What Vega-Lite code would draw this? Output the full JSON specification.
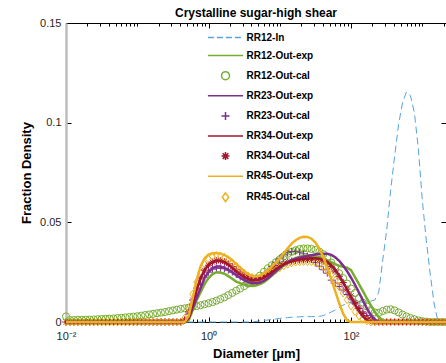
{
"$schema": "https://vega.github.io/schema/vega-lite/v6.json",
"width": 380, "height": 299,
"autosize": {"type": "none"},
"padding": {"left": 66, "top": 23, "right": 0, "bottom": 41},
"title": {"text": "Crystalline sugar-high shear", "fontSize": 12, "fontWeight": "bold", "font": "Liberation Sans", "color": "#000000", "offset": -3, "anchor": "middle"},
"config": {"view": {"stroke": null}, "font": "Liberation Sans",
 "axis": {"labelFont": "Liberation Sans", "labelFontSize": 11, "labelColor": "#262626", "titleFont": "Liberation Sans", "titleColor": "#000000", "titleFontWeight": "bold", "titleFontSize": 13, "tickColor": "#000000", "domainColor": "#000000", "grid": false, "labelFlush": false, "labelOverlap": false}},
"data": {"values": [
{"d":0.01,"in":0,"e12":0,"c12":0.0028,"e23":0,"c23":0,"e34":0,"c34":0,"e45":0,"c45":0},
{"d":0.011365,"in":0,"e12":0,"c12":0.0010,"e23":0,"c23":0,"e34":0,"c34":0,"e45":0,"c45":0},
{"d":0.012916,"in":0,"e12":0,"c12":0.0010,"e23":0,"c23":0,"e34":0,"c34":0,"e45":0,"c45":0},
{"d":0.014678,"in":0,"e12":0,"c12":0.0011,"e23":0,"c23":0,"e34":0,"c34":0,"e45":0,"c45":0},
{"d":0.016681,"in":0,"e12":0,"c12":0.0011,"e23":0,"c23":0,"e34":0,"c34":0,"e45":0,"c45":0},
{"d":0.018957,"in":0,"e12":0,"c12":0.0012,"e23":0,"c23":0,"e34":0,"c34":0,"e45":0,"c45":0},
{"d":0.021544,"in":0,"e12":0,"c12":0.0012,"e23":0,"c23":0,"e34":0,"c34":0,"e45":0,"c45":0},
{"d":0.024484,"in":0,"e12":0,"c12":0.0013,"e23":0,"c23":0,"e34":0,"c34":0,"e45":0,"c45":0},
{"d":0.027826,"in":0,"e12":0,"c12":0.0014,"e23":0,"c23":0,"e34":0,"c34":0,"e45":0,"c45":0},
{"d":0.031623,"in":0,"e12":0,"c12":0.0015,"e23":0,"c23":0,"e34":0,"c34":0,"e45":0,"c45":0},
{"d":0.035938,"in":0,"e12":0,"c12":0.0016,"e23":0,"c23":0,"e34":0,"c34":0,"e45":0,"c45":0},
{"d":0.040842,"in":0,"e12":0,"c12":0.0017,"e23":0,"c23":0,"e34":0,"c34":0,"e45":0,"c45":0},
{"d":0.046416,"in":0,"e12":0,"c12":0.0018,"e23":0,"c23":0,"e34":0,"c34":0,"e45":0,"c45":0},
{"d":0.05275,"in":0,"e12":0,"c12":0.0020,"e23":0,"c23":0,"e34":0,"c34":0,"e45":0,"c45":0},
{"d":0.059948,"in":0,"e12":0,"c12":0.0021,"e23":0,"c23":0,"e34":0,"c34":0,"e45":0,"c45":0},
{"d":0.068129,"in":0,"e12":0,"c12":0.0023,"e23":0,"c23":0,"e34":0,"c34":0,"e45":0,"c45":0},
{"d":0.077426,"in":0,"e12":0,"c12":0.0025,"e23":0,"c23":0,"e34":0,"c34":0,"e45":0,"c45":0},
{"d":0.087992,"in":0,"e12":0,"c12":0.0027,"e23":0,"c23":0,"e34":0,"c34":0,"e45":0,"c45":0},
{"d":0.1,"in":0,"e12":0,"c12":0.0029,"e23":0,"c23":0,"e34":0,"c34":0,"e45":0,"c45":0},
{"d":0.11365,"in":0,"e12":0,"c12":0.0032,"e23":0,"c23":0,"e34":0,"c34":0,"e45":0,"c45":0},
{"d":0.12916,"in":0,"e12":0,"c12":0.0035,"e23":0,"c23":0,"e34":0,"c34":0,"e45":0,"c45":0},
{"d":0.14678,"in":0,"e12":0,"c12":0.0038,"e23":0,"c23":0,"e34":0,"c34":0,"e45":0,"c45":0},
{"d":0.16681,"in":0,"e12":0,"c12":0.0041,"e23":0,"c23":0,"e34":0,"c34":0,"e45":0,"c45":0},
{"d":0.18957,"in":0,"e12":0,"c12":0.0044,"e23":0,"c23":0,"e34":0,"c34":0,"e45":0,"c45":0},
{"d":0.21544,"in":0,"e12":0,"c12":0.0047,"e23":0,"c23":0,"e34":0,"c34":0,"e45":0,"c45":0},
{"d":0.24484,"in":0,"e12":0,"c12":0.0050,"e23":0,"c23":0,"e34":0,"c34":0,"e45":0,"c45":0},
{"d":0.27826,"in":0,"e12":0,"c12":0.0054,"e23":0,"c23":0,"e34":0,"c34":0,"e45":0,"c45":0},
{"d":0.31623,"in":0,"e12":0,"c12":0.0058,"e23":0,"c23":0,"e34":0,"c34":0,"e45":0,"c45":0},
{"d":0.35938,"in":0,"e12":0,"c12":0.0062,"e23":0,"c23":0,"e34":0,"c34":0,"e45":0,"c45":0},
{"d":0.40842,"in":0,"e12":0,"c12":0.0066,"e23":0,"c23":0,"e34":0,"c34":0,"e45":0,"c45":0},
{"d":0.46416,"in":0,"e12":0,"c12":0.0069,"e23":0,"c23":0.001,"e34":0,"c34":0.001,"e45":0,"c45":0.002},
{"d":0.5275,"in":0,"e12":0.001,"c12":0.0072,"e23":0.002,"c23":0.004,"e34":0.002,"c34":0.005,"e45":0.003,"c45":0.007},
{"d":0.59948,"in":0,"e12":0.006,"c12":0.0076,"e23":0.007,"c23":0.009,"e34":0.009,"c34":0.011,"e45":0.012,"c45":0.014},
{"d":0.68129,"in":0,"e12":0.011,"c12":0.0080,"e23":0.012,"c23":0.014,"e34":0.016,"c34":0.017,"e45":0.021,"c45":0.020},
{"d":0.77426,"in":0,"e12":0.015,"c12":0.0084,"e23":0.017,"c23":0.019,"e34":0.022,"c34":0.022,"e45":0.028,"c45":0.025},
{"d":0.87992,"in":0,"e12":0.019,"c12":0.0089,"e23":0.022,"c23":0.0225,"e34":0.026,"c34":0.026,"e45":0.032,"c45":0.029},
{"d":1,"in":0,"e12":0.022,"c12":0.0094,"e23":0.025,"c23":0.025,"e34":0.0287,"c34":0.0285,"e45":0.0338,"c45":0.0315},
{"d":1.1365,"in":0,"e12":0.024,"c12":0.0100,"e23":0.027,"c23":0.0265,"e34":0.0302,"c34":0.030,"e45":0.0345,"c45":0.0328},
{"d":1.2916,"in":0,"e12":0.0249,"c12":0.0107,"e23":0.0278,"c23":0.027,"e34":0.0308,"c34":0.0307,"e45":0.0346,"c45":0.0333},
{"d":1.4678,"in":0,"e12":0.0248,"c12":0.0115,"e23":0.0278,"c23":0.027,"e34":0.0307,"c34":0.0307,"e45":0.0343,"c45":0.0332},
{"d":1.6681,"in":0,"e12":0.0242,"c12":0.0124,"e23":0.0272,"c23":0.0267,"e34":0.030,"c34":0.0302,"e45":0.0336,"c45":0.0325},
{"d":1.8957,"in":0,"e12":0.023,"c12":0.0135,"e23":0.0262,"c23":0.026,"e34":0.0288,"c34":0.0292,"e45":0.0325,"c45":0.0313},
{"d":2.1544,"in":0,"e12":0.0217,"c12":0.0146,"e23":0.025,"c23":0.025,"e34":0.0272,"c34":0.0278,"e45":0.031,"c45":0.0297},
{"d":2.4484,"in":0,"e12":0.0203,"c12":0.0157,"e23":0.0235,"c23":0.0238,"e34":0.0255,"c34":0.0262,"e45":0.0292,"c45":0.028},
{"d":2.7826,"in":0,"e12":0.0195,"c12":0.0168,"e23":0.0222,"c23":0.0225,"e34":0.024,"c34":0.0247,"e45":0.0273,"c45":0.0262},
{"d":3.1623,"in":0,"e12":0.0188,"c12":0.018,"e23":0.021,"c23":0.0215,"e34":0.0226,"c34":0.0234,"e45":0.0255,"c45":0.0245},
{"d":3.5938,"in":0,"e12":0.0183,"c12":0.0192,"e23":0.020,"c23":0.0208,"e34":0.0216,"c34":0.0225,"e45":0.024,"c45":0.0232},
{"d":4.0842,"in":0,"e12":0.0181,"c12":0.0203,"e23":0.0195,"c23":0.0205,"e34":0.021,"c34":0.022,"e45":0.023,"c45":0.0224},
{"d":4.6416,"in":0.0003,"e12":0.0183,"c12":0.0217,"e23":0.0194,"c23":0.0208,"e34":0.0209,"c34":0.0219,"e45":0.0228,"c45":0.022},
{"d":5.275,"in":0.0005,"e12":0.019,"c12":0.0233,"e23":0.0198,"c23":0.0218,"e34":0.0213,"c34":0.0223,"e45":0.0233,"c45":0.0221},
{"d":5.9948,"in":0.0008,"e12":0.020,"c12":0.0252,"e23":0.0207,"c23":0.0235,"e34":0.0222,"c34":0.0232,"e45":0.0245,"c45":0.0227},
{"d":6.8129,"in":0.001,"e12":0.0215,"c12":0.027,"e23":0.022,"c23":0.0255,"e34":0.0235,"c34":0.0244,"e45":0.026,"c45":0.0236},
{"d":7.7426,"in":0.0013,"e12":0.0233,"c12":0.0285,"e23":0.0237,"c23":0.0278,"e34":0.025,"c34":0.0258,"e45":0.0278,"c45":0.0248},
{"d":8.7992,"in":0.0015,"e12":0.025,"c12":0.030,"e23":0.0255,"c23":0.030,"e34":0.0265,"c34":0.0272,"e45":0.0298,"c45":0.026},
{"d":10,"in":0.0018,"e12":0.0267,"c12":0.0315,"e23":0.0272,"c23":0.032,"e34":0.0278,"c34":0.0284,"e45":0.032,"c45":0.0272},
{"d":11.365,"in":0.002,"e12":0.0283,"c12":0.033,"e23":0.0287,"c23":0.0337,"e34":0.0289,"c34":0.0294,"e45":0.0345,"c45":0.0282},
{"d":12.916,"in":0.0022,"e12":0.0297,"c12":0.0342,"e23":0.030,"c23":0.0348,"e34":0.0298,"c34":0.0301,"e45":0.037,"c45":0.029},
{"d":14.678,"in":0.0024,"e12":0.031,"c12":0.0352,"e23":0.031,"c23":0.0354,"e34":0.0305,"c34":0.0306,"e45":0.0393,"c45":0.0296},
{"d":16.681,"in":0.0025,"e12":0.032,"c12":0.036,"e23":0.0318,"c23":0.0355,"e34":0.031,"c34":0.0309,"e45":0.041,"c45":0.030},
{"d":18.957,"in":0.0026,"e12":0.0327,"c12":0.0366,"e23":0.0323,"c23":0.0351,"e34":0.0314,"c34":0.0311,"e45":0.0422,"c45":0.0302},
{"d":21.544,"in":0.0027,"e12":0.0331,"c12":0.0369,"e23":0.0327,"c23":0.0342,"e34":0.0317,"c34":0.0312,"e45":0.0428,"c45":0.0303},
{"d":24.484,"in":0.0027,"e12":0.0333,"c12":0.0369,"e23":0.0331,"c23":0.033,"e34":0.0319,"c34":0.0313,"e45":0.0427,"c45":0.0303},
{"d":27.826,"in":0.0027,"e12":0.0333,"c12":0.0367,"e23":0.0335,"c23":0.0315,"e34":0.032,"c34":0.0314,"e45":0.0418,"c45":0.0302},
{"d":31.623,"in":0.0027,"e12":0.033,"c12":0.0362,"e23":0.0339,"c23":0.0298,"e34":0.032,"c34":0.0314,"e45":0.0398,"c45":0.0298},
{"d":35.938,"in":0.0028,"e12":0.0325,"c12":0.0353,"e23":0.0342,"c23":0.028,"e34":0.0318,"c34":0.0312,"e45":0.0368,"c45":0.029},
{"d":40.842,"in":0.0033,"e12":0.0318,"c12":0.034,"e23":0.0343,"c23":0.0262,"e34":0.0312,"c34":0.0306,"e45":0.0325,"c45":0.0278},
{"d":46.416,"in":0.004,"e12":0.031,"c12":0.0322,"e23":0.0342,"c23":0.0245,"e34":0.0302,"c34":0.0295,"e45":0.0272,"c45":0.026},
{"d":52.75,"in":0.005,"e12":0.030,"c12":0.0298,"e23":0.0337,"c23":0.021,"e34":0.0285,"c34":0.0278,"e45":0.0215,"c45":0.0237},
{"d":59.948,"in":0.006,"e12":0.029,"c12":0.027,"e23":0.0325,"c23":0.0195,"e34":0.0262,"c34":0.0256,"e45":0.0155,"c45":0.0209},
{"d":68.129,"in":0.0072,"e12":0.0282,"c12":0.0245,"e23":0.0307,"c23":0.0178,"e34":0.0233,"c34":0.0229,"e45":0.0095,"c45":0.0178},
{"d":77.426,"in":0.0085,"e12":0.0277,"c12":0.022,"e23":0.0283,"c23":0.016,"e34":0.020,"c34":0.0198,"e45":0.0042,"c45":0.0145},
{"d":87.992,"in":0.0093,"e12":0.0272,"c12":0.0193,"e23":0.0255,"c23":0.0138,"e34":0.0163,"c34":0.0165,"e45":0.0008,"c45":0.0112},
{"d":100,"in":0.010,"e12":0.026,"c12":0.0168,"e23":0.0222,"c23":0.0115,"e34":0.0125,"c34":0.0131,"e45":0,"c45":0.008},
{"d":113.65,"in":0.010,"e12":0.0225,"c12":0.0145,"e23":0.0187,"c23":0.0092,"e34":0.0088,"c34":0.0098,"e45":0,"c45":0.0052},
{"d":129.16,"in":0.010,"e12":0.019,"c12":0.012,"e23":0.0148,"c23":0.007,"e34":0.0055,"c34":0.0068,"e45":0,"c45":0.003},
{"d":146.78,"in":0.010,"e12":0.0155,"c12":0.0097,"e23":0.0108,"c23":0.005,"e34":0.0028,"c34":0.0042,"e45":0,"c45":0.0014},
{"d":166.81,"in":0.010,"e12":0.0118,"c12":0.0078,"e23":0.0068,"c23":0.0032,"e34":0.001,"c34":0.0022,"e45":0,"c45":0.0005},
{"d":189.57,"in":0.0105,"e12":0.0083,"c12":0.006,"e23":0.0035,"c23":0.0018,"e34":0,"c34":0.0008,"e45":0,"c45":0},
{"d":215.44,"in":0.011,"e12":0.005,"c12":0.0048,"e23":0.0012,"c23":0.0008,"e34":0,"c34":0,"e45":0,"c45":0},
{"d":244.84,"in":0.015,"e12":0.0025,"c12":0.0046,"e23":0,"c23":0.0002,"e34":0,"c34":0,"e45":0,"c45":0},
{"d":278.26,"in":0.031,"e12":0.0008,"c12":0.0055,"e23":0,"c23":0,"e34":0,"c34":0,"e45":0,"c45":0},
{"d":316.23,"in":0.046,"e12":0,"c12":0.0062,"e23":0,"c23":0,"e34":0,"c34":0,"e45":0,"c45":0},
{"d":359.38,"in":0.066,"e12":0,"c12":0.0064,"e23":0,"c23":0,"e34":0,"c34":0,"e45":0,"c45":0},
{"d":408.42,"in":0.083,"e12":0,"c12":0.0058,"e23":0,"c23":0,"e34":0,"c34":0,"e45":0,"c45":0},
{"d":464.16,"in":0.099,"e12":0,"c12":0.0048,"e23":0,"c23":0,"e34":0,"c34":0,"e45":0,"c45":0},
{"d":527.5,"in":0.110,"e12":0,"c12":0.0037,"e23":0,"c23":0,"e34":0,"c34":0,"e45":0,"c45":0},
{"d":599.48,"in":0.1155,"e12":0,"c12":0.0028,"e23":0,"c23":0,"e34":0,"c34":0,"e45":0,"c45":0},
{"d":681.29,"in":0.1135,"e12":0,"c12":0.002,"e23":0,"c23":0,"e34":0,"c34":0,"e45":0,"c45":0},
{"d":774.26,"in":0.105,"e12":0,"c12":0.0014,"e23":0,"c23":0,"e34":0,"c34":0,"e45":0,"c45":0},
{"d":879.92,"in":0.087,"e12":0,"c12":0.0008,"e23":0,"c23":0,"e34":0,"c34":0,"e45":0,"c45":0},
{"d":1000,"in":0.061,"e12":0,"c12":0.0004,"e23":0,"c23":0,"e34":0,"c34":0,"e45":0,"c45":0},
{"d":1136.5,"in":0.041,"e12":0,"c12":0.0002,"e23":0,"c23":0,"e34":0,"c34":0,"e45":0,"c45":0},
{"d":1291.6,"in":0.024,"e12":0,"c12":0,"e23":0,"c23":0,"e34":0,"c34":0,"e45":0,"c45":0},
{"d":1467.8,"in":0.009,"e12":0,"c12":0,"e23":0,"c23":0,"e34":0,"c34":0,"e45":0,"c45":0},
{"d":1668.1,"in":0,"e12":0,"c12":0,"e23":0,"c23":0,"e34":0,"c34":0,"e45":0,"c45":0},
{"d":1895.7,"in":0,"e12":0,"c12":0,"e23":0,"c23":0,"e34":0,"c34":0,"e45":0,"c45":0},
{"d":2154.4,"in":0,"e12":0,"c12":0,"e23":0,"c23":0,"e34":0,"c34":0,"e45":0,"c45":0}
]},
"transform": [{"fold": ["in","e12","c12","e23","c23","e34","c34","e45","c45"], "as": ["s","v"]}],
"layer": [
{
 "transform": [{"filter": "test(/^c/, datum.s)"}],
 "mark": {"type": "point", "filled": false, "size": 50, "strokeWidth": 1, "opacity": 1, "clip": false},
 "encoding": {
  "x": {"field": "d", "type": "quantitative", "scale": {"type": "log", "domain": [0.01, 2150], "nice": false}, "axis": null},
  "y": {"field": "v", "type": "quantitative", "scale": {"domain": [0, 0.15], "nice": false}, "axis": null},
  "color": {"field": "s", "type": "nominal",
   "scale": {"domain": ["in","e12","c12","e23","c23","e34","c34","e45","c45"], "range": ["#56a3db","#77AC30","#77AC30","#7E2F8E","#7E2F8E","#A2142F","#A2142F","#EDB120","#EDB120"]},
   "legend": {"orient": "none", "legendX": 154.5, "legendY": 9.5, "title": null, "padding": 0,
    "labelExpr": "{'in':'RR12-In','e12':'RR12-Out-exp','c12':'RR12-Out-cal','e23':'RR23-Out-exp','c23':'RR23-Out-cal','e34':'RR34-Out-exp','c34':'RR34-Out-cal','e45':'RR45-Out-exp','c45':'RR45-Out-cal'}[datum.value]",
    "labelFont": "Liberation Sans", "labelFontSize": 10, "labelFontWeight": "bold", "labelColor": "#000000",
    "symbolSize": 64, "rowPadding": 8.1, "labelOffset": 16, "symbolFillColor": "transparent",
    "encode": {"symbols": {"strokeWidth": {"signal": "test(/^e/, datum.value) ? 2.5 : 1"}}}}},
  "shape": {"field": "s", "type": "nominal",
   "scale": {"domain": ["in","e12","c12","e23","c23","e34","c34","e45","c45"],
    "range": ["M-4.4,0H-2.9M-2.15,0H-0.65M0.1,0H1.6M2.35,0H3.85","M-4.4,0H4.4","circle","M-4.4,0H4.4","M-1,0H1M0,-1V1","M-4.4,0H4.4","M-1,0H1M0,-1V1M-0.7,-0.7L0.7,0.7M-0.7,0.7L0.7,-0.7","M-4.4,0H4.4","M0,-1.1L0.8,0L0,1.1L-0.8,0Z"]},
   "legend": {"orient": "none", "legendX": 154.5, "legendY": 9.5, "title": null, "padding": 0,
    "labelExpr": "{'in':'RR12-In','e12':'RR12-Out-exp','c12':'RR12-Out-cal','e23':'RR23-Out-exp','c23':'RR23-Out-cal','e34':'RR34-Out-exp','c34':'RR34-Out-cal','e45':'RR45-Out-exp','c45':'RR45-Out-cal'}[datum.value]",
    "labelFont": "Liberation Sans", "labelFontSize": 10, "labelFontWeight": "bold", "labelColor": "#000000",
    "symbolSize": 64, "rowPadding": 8.1, "labelOffset": 16, "symbolFillColor": "transparent",
    "encode": {"symbols": {"strokeWidth": {"signal": "test(/^e/, datum.value) ? 2.5 : 1"}}}}}
 }
},
{
 "transform": [{"filter": "datum.s === 'in'"}],
 "mark": {"type": "line", "strokeDash": [7,4], "strokeWidth": 1, "clip": false},
 "encoding": {
  "x": {"field": "d", "type": "quantitative",
   "axis": {"orient": "bottom", "title": "Diameter [µm]", "titlePadding": 4,
    "values": [0.01,0.02,0.03,0.04,0.05,0.06,0.07,0.08,0.09,0.1,0.2,0.3,0.4,0.5,0.6,0.7,0.8,0.9,1,2,3,4,5,6,7,8,9,10,20,30,40,50,60,70,80,90,100,200,300,400,500,600,700,800,900,1000,2000],
    "labelExpr": "datum.value == 0.01 ? '10⁻²' : datum.value == 1 ? '10⁰' : datum.value == 100 ? '10²' : ''",
    "tickSize": {"condition": {"test": "datum.value == 0.01 || datum.value == 1 || datum.value == 100", "value": -5}, "value": -3},
    "labelPadding": 13}},
  "y": {"field": "v", "type": "quantitative",
   "axis": {"orient": "left", "title": "Fraction Density", "values": [0,0.05,0.1,0.15],
    "labelExpr": "datum.value == 0.15 ? '0.15' : datum.value == 0.1 ? '0.1' : datum.value == 0.05 ? '0.05' : '0'",
    "tickSize": -5, "labelPadding": 10, "titlePadding": 6, "domainColor": "#bdbdbd", "domainWidth": 2.5}},
  "color": {"field": "s", "type": "nominal"}
 }
},
{
 "transform": [{"filter": "indexof(['e12','e23','e34'], datum.s) >= 0"}],
 "mark": {"type": "line", "strokeWidth": 2.5, "clip": false},
 "encoding": {
  "x": {"field": "d", "type": "quantitative",
   "axis": {"orient": "top", "title": null, "labels": false,
    "values": [0.01,0.02,0.03,0.04,0.05,0.06,0.07,0.08,0.09,0.1,0.2,0.3,0.4,0.5,0.6,0.7,0.8,0.9,1,2,3,4,5,6,7,8,9,10,20,30,40,50,60,70,80,90,100,200,300,400,500,600,700,800,900,1000,2000],
    "tickSize": {"condition": {"test": "datum.value == 0.01 || datum.value == 1 || datum.value == 100", "value": -5}, "value": -3}}},
  "y": {"field": "v", "type": "quantitative",
   "axis": {"orient": "right", "title": null, "labels": false, "values": [0,0.05,0.1,0.15], "tickSize": -5}},
  "color": {"field": "s", "type": "nominal"}
 }
},
{
 "transform": [{"filter": "datum.s === 'e45'"}],
 "mark": {"type": "line", "strokeWidth": 2.5, "clip": false},
 "encoding": {
  "x": {"field": "d", "type": "quantitative", "axis": null},
  "y": {"field": "v", "type": "quantitative", "axis": null},
  "color": {"field": "s", "type": "nominal"}
 }
}
]
}
